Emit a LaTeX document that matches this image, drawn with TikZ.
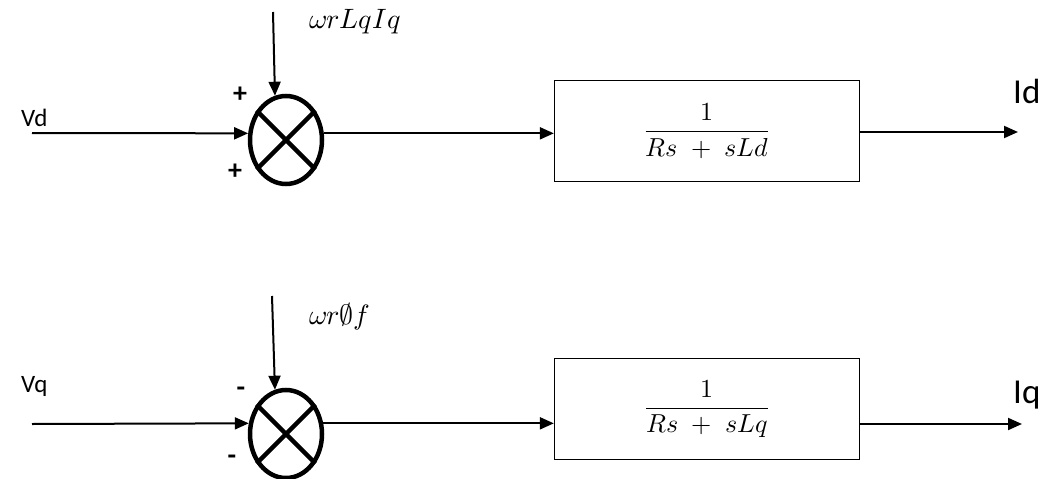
\documentclass[tikz,border=0pt]{standalone}
\usepackage{fontspec}
\usepackage{unicode-math}
\setmainfont{Carlito}
\setmathfont{Latin Modern Math}
\usetikzlibrary{arrows.meta,shapes.geometric}
\begin{document}
\begin{tikzpicture}[x=1pt,y=-1pt,
  sig/.style={line width=2pt,-{Triangle[length=14pt,width=12pt]}},
  sumnode/.style={ellipse,draw,line width=4.5pt,minimum width=72pt,minimum height=88pt,inner sep=0pt},
  crossline/.style={line width=4.5pt},
  blockbox/.style={rectangle,draw,line width=1.3pt,minimum width=305pt,minimum height=101pt,inner sep=0pt,
    font=\fontsize{26}{30}\selectfont},
  sgn/.style={font=\fontsize{28}{30}\selectfont\bfseries,inner sep=0pt},
  lbl/.style={font=\fontsize{25}{28}\selectfont,inner sep=0pt,anchor=base west},
  outlbl/.style={font=\fontsize{35}{38}\selectfont,inner sep=0pt,anchor=base west},
  mlbl/.style={font=\fontsize{28}{30}\selectfont,inner sep=0pt,anchor=base west}]
\useasboundingbox (0,0) rectangle (1050,479);

% d-axis branch
\node[sumnode] (sum1) at (286,140) {};
\draw[crossline] (sum1.135) -- (sum1.-45) (sum1.45) -- (sum1.-135);
\node[blockbox] (box1) at (707,131) {$\displaystyle\frac{1}{Rs\;+\;sLd}$};
\coordinate (in1) at (32,133);
\coordinate (ff1) at (273,12);
\coordinate (out1) at (1018,132);
\draw[sig] (in1) -- (sum1.170);
\draw[sig] (ff1) -- (sum1.104);
\draw[sig] (sum1.10) -- (sum1.10 -| box1.west);
\draw[sig] (out1 -| box1.east) -- (out1);
\node[lbl] (vd) at (21,126) {Vd};
\node[outlbl] (id) at (1013,103) {Id};
\node[mlbl] (fb1) at (309,28) {$\omega r L q I q$};
\node[sgn] (p1) at (240,95) {+};
\node[sgn] (p2) at (235,172) {+};

% q-axis branch
\node[sumnode] (sum2) at (286,434) {};
\draw[crossline] (sum2.135) -- (sum2.-45) (sum2.45) -- (sum2.-135);
\node[blockbox] (box2) at (707,409) {$\displaystyle\frac{1}{Rs\;+\;sLq}$};
\coordinate (in2) at (32,424);
\coordinate (ff2) at (272,296);
\coordinate (out2) at (1022,424);
\draw[sig] (in2) -- (sum2.164);
\draw[sig] (ff2) -- (sum2.104);
\draw[sig] (sum2.16) -- (sum2.16 -| box2.west);
\draw[sig] (out2 -| box2.east) -- (out2);
\node[lbl] (vq) at (21,392) {Vq};
\node[outlbl] (iq) at (1013,403) {Iq};
\node[mlbl] (fb2) at (309,324) {$\omega r\emptyset f$};
\node[sgn] (m1) at (241,392) {-};
\node[sgn] (m2) at (232,460) {-};
\end{tikzpicture}
\end{document}
